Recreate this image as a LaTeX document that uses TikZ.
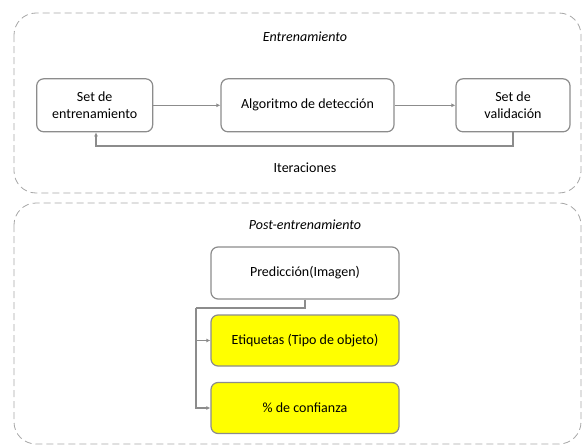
\documentclass[tikz,border=0pt]{standalone}
\usepackage{fontspec}
\setmainfont{Carlito}
\usetikzlibrary{arrows.meta}
\definecolor{edge}{HTML}{8C8C8C}
\definecolor{frame}{HTML}{A6A6A6}
\definecolor{hl}{HTML}{FFFF00}
\begin{document}
\begin{tikzpicture}[x=1pt,y=-1pt,
  stage/.style={draw=frame,dash pattern=on 7pt off 4pt,line width=0.8pt,rounded corners=22pt},
  blk/.style={draw=edge,line width=1.2pt,rounded corners=7pt,fill=white,align=center,font=\fontsize{14}{17}\selectfont},
  hlblk/.style={blk,fill=hl},
  conn/.style={draw=edge,line width=1.2pt,-{Latex[length=4pt,width=4pt]}},
  ttl/.style={font=\itshape\fontsize{14}{17}\selectfont},
  lbl/.style={font=\fontsize{14}{17}\selectfont}]
\useasboundingbox (0,0) rectangle (584,447);
\draw[stage] (14,13) rectangle (581,193);
\draw[stage] (14,203) rectangle (581,444);
\node[ttl] (t1) at (305,37) {Entrenamiento};
\node[ttl] (t2) at (305,225) {Post-entrenamiento};
\node[blk,minimum width=116pt,minimum height=53pt] (set) at (94.7,105.3) {Set de\\entrenamiento};
\node[blk,minimum width=173pt,minimum height=53pt] (alg) at (307.5,105.3) {Algoritmo de detección};
\node[blk,minimum width=114pt,minimum height=53pt] (val) at (513,105.3) {Set de\\validación};
\node[lbl] (it) at (305,168) {Iteraciones};
\draw[conn] (set) -- (alg);
\draw[conn] (alg) -- (val);
\draw[conn] (val.south) |- (96,146) -- (set.south -| 96,0);
\node[blk,minimum width=188pt,minimum height=52pt] (pred) at (305,273) {Predicción(Imagen)};
\node[hlblk,minimum width=188pt,minimum height=51pt] (etq) at (305,340.5) {Etiquetas (Tipo de objeto)};
\node[hlblk,minimum width=188pt,minimum height=51pt] (conf) at (305,408) {\% de confianza};
\coordinate (j) at (196,308);
\draw[draw=edge,line width=1.2pt] (pred.south) |- (j);
\draw[conn] (j) |- (etq.west);
\draw[conn] (j) |- (conf.west);
\end{tikzpicture}
\end{document}
